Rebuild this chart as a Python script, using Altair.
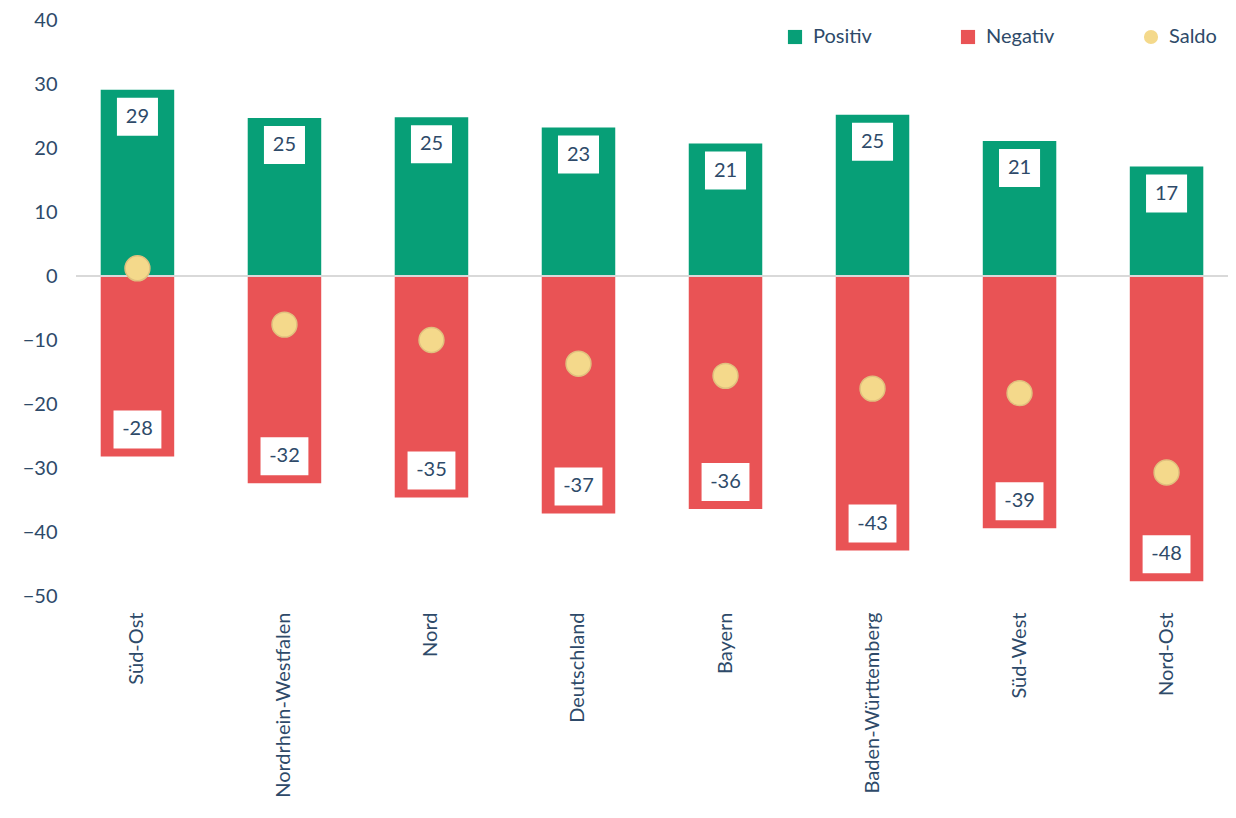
import altair as alt
import pandas as pd

regions = ["Süd-Ost", "Nordrhein-Westfalen", "Nord", "Deutschland", "Bayern",
           "Baden-Württemberg", "Süd-West", "Nord-Ost"]
positiv = [29.1, 24.7, 24.8, 23.2, 20.7, 25.2, 21.1, 17.1]
negativ = [-28.2, -32.4, -34.6, -37.1, -36.4, -42.9, -39.4, -47.7]
saldo = [1.2, -7.6, -10.0, -13.7, -15.6, -17.6, -18.3, -30.7]
positiv_labels = ["29", "25", "25", "23", "21", "25", "21", "17"]
negativ_labels = ["-28", "-32", "-35", "-37", "-36", "-43", "-39", "-48"]
y_ticks = [-50, -40, -30, -20, -10, 0, 10, 20, 30, 40]
series = ["Positiv", "Negativ", "Saldo"]

df = pd.DataFrame({
    "Region": regions,
    "Positiv": positiv,
    "Negativ": negativ,
    "Saldo": saldo,
    "PosLabel": positiv_labels,
    "NegLabel": negativ_labels,
})

FONT = "Lato"
TXT = "#2E4A69"
GREEN = "#079F77"
RED = "#E95355"
YELLOW = "#F4D98B"

x_enc = alt.X("Region:N", sort=regions, title=None,
              scale=alt.Scale(paddingInner=0.5, paddingOuter=0.168),
              axis=alt.Axis(labelAngle=-90, labelAlign="right", labelBaseline="middle",
                            labelPadding=16, domain=False, ticks=False, labelLimit=0,
                            labelFontSize=20, labelFont=FONT, labelColor=TXT))
y_scale = alt.Scale(domain=[-50, 40], nice=False, zero=False)
y_axis = alt.Axis(values=y_ticks, domain=False, ticks=False, grid=False,
                  labelFontSize=20, labelFont=FONT, labelColor=TXT, labelPadding=19)

legend = alt.Legend(title=None, orient="none", legendX=709, legendY=7,
                    direction="horizontal", columns=3, labelFont=FONT,
                    labelFontSize=20, labelColor=TXT, labelOffset=8,
                    columnPadding=86, symbolSize=200, symbolStrokeWidth=0,
                    padding=0)
color_scale = alt.Scale(domain=series, range=[GREEN, RED, YELLOW])
shape_scale = alt.Scale(domain=series, range=["square", "square", "circle"])

base = alt.Chart(df)

bars = base.transform_fold(["Positiv", "Negativ"], as_=["Typ", "Wert"]).mark_bar().encode(
    x=x_enc,
    y=alt.Y("Wert:Q", scale=y_scale, axis=y_axis, title=None),
    color=alt.Color("Typ:N", scale=color_scale, legend=legend),
)

zero = base.mark_rule(color="#D9D9D9", strokeWidth=2).encode(y=alt.datum(0))

pos_box = base.mark_point(shape="M-1.08,-1H1.08V1H-1.08Z", filled=True, color="white",
                          opacity=1, size=1444, yOffset=27).encode(
    x=alt.X("Region:N", sort=regions), y=alt.Y("Positiv:Q"))
neg_box = base.mark_point(shape="M-1.26,-1H1.26V1H-1.26Z", filled=True, color="white",
                          opacity=1, size=1444, yOffset=-27).encode(
    x=alt.X("Region:N", sort=regions), y=alt.Y("Negativ:Q"))
pos_txt = base.mark_text(font=FONT, fontSize=20, color=TXT, baseline="middle",
                         align="center", yOffset=27).encode(
    x=alt.X("Region:N", sort=regions), y=alt.Y("Positiv:Q"), text="PosLabel:N")
neg_txt = base.mark_text(font=FONT, fontSize=20, color=TXT, baseline="middle",
                         align="center", yOffset=-27).encode(
    x=alt.X("Region:N", sort=regions), y=alt.Y("Negativ:Q"), text="NegLabel:N")

points = base.transform_calculate(Typ="'Saldo'").mark_point(
    filled=True, opacity=1, size=620, stroke="#E0C07E", strokeWidth=1.5).encode(
    x=alt.X("Region:N", sort=regions),
    y=alt.Y("Saldo:Q"),
    color=alt.Color("Typ:N", scale=color_scale, legend=legend),
    shape=alt.Shape("Typ:N", scale=shape_scale, legend=legend),
)

chart = alt.layer(bars, zero, pos_box, neg_box, pos_txt, neg_txt, points).properties(
    width=1152, height=576, background="white",
    autosize=alt.AutoSizeParams(type="none"),
    padding={"left": 68, "top": 12, "right": 0, "bottom": 210},
).configure_view(strokeWidth=0, stroke="transparent")

chart.save("out.html", embed_options={"renderer": "svg", "actions": False})
